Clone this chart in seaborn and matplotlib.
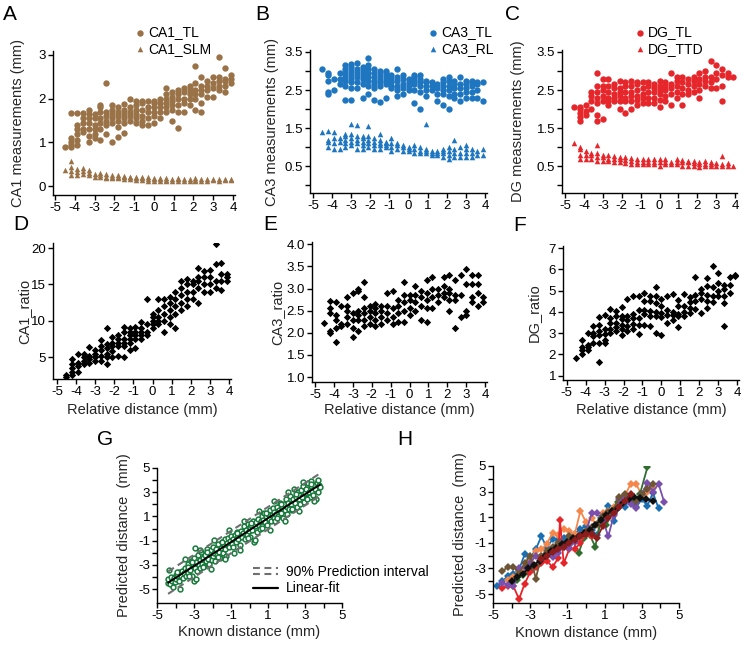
import numpy as np
import pandas as pd
import matplotlib
matplotlib.use("Agg")
import matplotlib.pyplot as plt
import seaborn as sns
from matplotlib.lines import Line2D
from matplotlib.legend_handler import HandlerBase

# ---------------- data ----------------
XGRID = [-4.5, -4.2, -3.9, -3.6, -3.3, -3.0, -2.7, -2.4, -2.1, -1.8, -1.5, -1.2, -0.9, -0.6, -0.3,
         0.0, 0.3, 0.6, 0.9, 1.2, 1.5, 1.8, 2.1, 2.4, 2.7, 3.0, 3.3, 3.6, 3.9]

CA1_TL = [[0.9], [0.9, 0.95, 1.0, 1.1, 1.67], [0.95, 1.05, 1.2, 1.3, 1.4, 1.68], [1.25, 1.3, 1.45, 1.55, 1.68],
          [1.0, 1.15, 1.3, 1.45, 1.55, 1.65, 1.75], [1.1, 1.2, 1.3, 1.4, 1.55, 1.65],
          [1.05, 1.3, 1.45, 1.55, 1.7, 1.8, 1.85], [1.2, 1.4, 1.5, 1.6, 1.7, 2.35], [1.0, 1.45, 1.55, 1.65, 1.75, 1.85],
          [1.12, 1.35, 1.5, 1.6, 1.7, 1.8], [1.22, 1.45, 1.55, 1.65, 1.75, 1.87], [1.5, 1.6, 1.7, 1.8, 2.0],
          [1.45, 1.55, 1.65, 1.75, 1.85, 1.95], [1.4, 1.5, 1.6, 1.75, 1.9, 1.95], [1.4, 1.55, 1.7, 1.8, 1.95],
          [1.45, 1.6, 1.7, 1.8, 1.9, 1.95], [1.55, 1.7, 1.8, 1.9, 2.0], [1.7, 1.8, 1.9, 2.0, 2.1, 2.25],
          [1.5, 1.75, 1.85, 1.95, 2.05, 2.15], [1.33, 1.7, 1.85, 2.0, 2.1, 2.2], [1.7, 1.9, 2.0, 2.15, 2.25],
          [1.85, 2.0, 2.1, 2.2, 2.3], [1.75, 2.0, 2.1, 2.2, 2.35, 2.75], [1.7, 1.9, 2.1, 2.2, 2.3, 2.5],
          [2.05, 2.2, 2.3, 2.4], [2.05, 2.25, 2.35, 2.5], [2.2, 2.3, 2.4, 2.5, 2.95], [2.15, 2.3, 2.4, 2.45, 2.7],
          [2.35, 2.45, 2.55]]
CA1_SLM = [[0.38], [0.25, 0.35, 0.45, 0.58], [0.25, 0.32, 0.4], [0.28, 0.35, 0.42], [0.25, 0.3, 0.38], [0.22, 0.28],
           [0.2, 0.25, 0.3], [0.18, 0.22, 0.28], [0.18, 0.22, 0.26], [0.18, 0.22, 0.25], [0.17, 0.2, 0.24],
           [0.16, 0.2, 0.22], [0.15, 0.18, 0.22], [0.15, 0.18, 0.2], [0.13, 0.16, 0.2], [0.13, 0.16, 0.19],
           [0.13, 0.16, 0.18], [0.13, 0.15, 0.18], [0.13, 0.16], [0.13, 0.16, 0.18], [0.13, 0.16], [0.13, 0.16],
           [0.12, 0.15, 0.18], [0.13, 0.16], [0.13, 0.16], [0.14, 0.17], [0.13, 0.16], [0.14, 0.17], [0.15, 0.17]]

CA3_TL = [[3.05], [2.4, 2.45, 2.75, 2.9, 2.95], [2.5, 2.8], [2.65, 2.8, 2.95], [2.25, 2.6, 2.75, 2.85, 2.95, 3.05, 3.15],
          [2.25, 2.55, 2.7, 2.8, 2.9, 3.0, 3.1, 3.18], [2.55, 2.7, 2.85, 2.95, 3.05, 3.2], [2.28, 2.65, 2.8, 2.9, 3.0, 3.1],
          [2.4, 2.6, 2.75, 2.85, 2.95, 3.05, 3.15, 3.33], [2.25, 2.55, 2.65, 2.75, 2.85, 2.95, 3.05],
          [2.18, 2.6, 2.7, 2.8, 2.9, 3.0], [2.3, 2.65, 2.75, 2.85, 2.95, 3.0], [2.55, 2.6, 2.7, 2.8, 2.9],
          [2.35, 2.5, 2.6, 2.75, 2.85, 3.05], [2.4, 2.55, 2.65, 2.8, 2.9], [2.5, 2.6, 2.7, 2.8],
          [2.15, 2.5, 2.65, 2.75, 2.85, 2.9], [2.0, 2.45, 2.6, 2.7, 2.8, 2.9], [2.35, 2.5, 2.6, 2.7, 2.75],
          [2.5, 2.6, 2.7], [2.2, 2.4, 2.55, 2.65], [2.1, 2.4, 2.5, 2.6, 2.7, 2.8], [2.0, 2.35, 2.5, 2.6, 2.75, 2.85],
          [2.3, 2.4, 2.55, 2.65, 2.75], [2.2, 2.4, 2.55, 2.65, 2.85], [2.3, 2.45, 2.55, 2.65, 2.75],
          [2.3, 2.45, 2.6, 2.7, 2.75], [2.3, 2.5, 2.65, 2.7], [2.2, 2.7]]
CA3_RL = [[1.4], [1.0, 1.15, 1.2, 1.42], [0.95, 1.1, 1.25, 1.4], [0.95, 1.15, 1.25], [1.0, 1.1, 1.2, 1.3, 1.35],
          [1.05, 1.15, 1.25, 1.35, 1.6], [0.95, 1.1, 1.2, 1.3, 1.58], [0.95, 1.05, 1.15, 1.25, 1.3],
          [1.0, 1.1, 1.2, 1.3, 1.55], [0.95, 1.05, 1.15, 1.25], [0.95, 1.05, 1.1, 1.2, 1.35], [1.0, 1.05, 1.1, 1.15],
          [0.9, 1.0, 1.1, 1.25], [0.95, 1.05, 1.1], [0.9, 1.0, 1.05], [0.9, 0.95, 1.0], [0.85, 0.95, 1.05],
          [0.85, 0.9, 1.0], [0.85, 0.9, 0.95, 1.6], [0.8, 0.85, 0.9], [0.8, 0.85, 0.9], [0.75, 0.85, 0.9, 0.95],
          [0.7, 0.8, 0.9, 1.0], [0.75, 0.85, 0.95, 1.2], [0.75, 0.85, 1.0], [0.75, 0.85, 0.95, 1.05],
          [0.75, 0.85, 0.95], [0.8, 0.9], [0.8, 0.95]]

DG_TL = [[2.05], [1.7, 1.8, 1.9, 2.0, 2.05], [1.85, 1.95, 2.1], [2.0, 2.2, 2.35, 2.45],
         [1.7, 1.85, 2.15, 2.3, 2.45, 2.6, 2.95], [1.75, 2.2, 2.35, 2.5, 2.6, 2.8], [2.1, 2.2, 2.3, 2.45, 2.6, 2.8],
         [2.2, 2.3, 2.4, 2.55, 2.65], [2.0, 2.2, 2.35, 2.45, 2.55, 2.75], [1.9, 2.2, 2.3, 2.45, 2.6, 2.7],
         [2.0, 2.2, 2.35, 2.45, 2.6, 2.75], [2.1, 2.25, 2.35, 2.5, 2.65, 2.7], [2.15, 2.3, 2.4, 2.55, 2.7],
         [2.15, 2.3, 2.45, 2.6, 2.7], [2.15, 2.3, 2.45, 2.55, 2.65], [2.05, 2.25, 2.4, 2.5, 2.6, 2.75],
         [2.2, 2.35, 2.5, 2.6, 2.7], [2.1, 2.4, 2.55, 2.65, 2.95], [2.3, 2.45, 2.6, 2.75, 2.85],
         [2.1, 2.4, 2.55, 2.7, 2.85], [2.4, 2.5, 2.65, 2.8], [2.45, 2.6, 2.75, 2.85], [2.3, 2.5, 2.65, 2.8, 2.95],
         [2.6, 2.75, 2.85, 3.0], [2.55, 2.7, 2.85, 3.25], [2.55, 2.8, 2.95, 3.15], [2.2, 2.6, 2.9, 3.05],
         [2.85, 2.95], [2.85]]
DG_TTD = [[1.12], [0.7, 0.8, 0.95, 1.0], [0.7, 0.8, 0.9], [0.7, 0.8, 0.85], [0.65, 0.75, 0.85, 1.05],
          [0.65, 0.75, 0.8], [0.65, 0.7, 0.8], [0.6, 0.7, 0.78], [0.6, 0.68, 0.75], [0.58, 0.66, 0.74],
          [0.55, 0.65, 0.72], [0.55, 0.62, 0.7], [0.55, 0.62, 0.7], [0.55, 0.62, 0.7], [0.55, 0.62, 0.7],
          [0.52, 0.6, 0.68], [0.55, 0.62, 0.7], [0.55, 0.62], [0.55, 0.62, 0.7], [0.52, 0.6, 0.66],
          [0.52, 0.6, 0.65], [0.5, 0.58, 0.63], [0.48, 0.55, 0.62], [0.5, 0.57, 0.63], [0.5, 0.57, 0.62],
          [0.52, 0.58], [0.5, 0.56, 0.78], [0.5, 0.58], [0.5]]

CA1_RATIO = [[2.3, 2.5], [2.5, 3.0, 3.5, 4.0, 4.7], [3.0, 3.8, 4.2, 5.5], [4.0, 4.5, 5.0, 5.5], [4.2, 4.8, 5.2, 6.4],
             [4.5, 5.0, 5.5, 6.0], [4.5, 5.2, 6.0, 6.5, 7.3], [4.0, 5.0, 5.5, 6.2, 6.8, 9.0],
             [5.0, 5.8, 6.5, 7.0, 7.8], [5.2, 6.5, 7.0, 7.5, 8.0], [5.0, 6.5, 7.0, 7.5, 8.5, 9.2],
             [6.0, 7.0, 7.5, 8.0, 8.5, 9.0], [6.3, 7.5, 8.0, 8.5, 9.2], [7.5, 8.0, 8.5, 9.0, 9.8],
             [8.0, 8.5, 9.5, 13.0], [9.0, 9.5, 10.0, 10.5, 11.0], [9.5, 10.0, 10.5, 11.5, 13.0],
             [8.5, 10.0, 11.0, 12.0, 13.0], [9.5, 10.5, 11.5, 12.5, 13.3], [9.0, 11.0, 12.0, 13.0, 14.0],
             [11.5, 12.5, 13.5, 14.5, 15.5], [12.0, 13.0, 14.0, 15.0, 15.7], [13.0, 14.0, 15.0, 15.5],
             [12.5, 14.5, 15.5, 16.0, 17.2], [14.0, 15.0, 16.0, 16.8], [14.0, 15.0, 16.0, 17.0],
             [14.5, 15.5, 17.8, 20.5], [14.2, 15.5, 16.5, 18.0], [15.5, 16.0, 16.5]]
CA3_RATIO = [[2.23], [2.0, 2.05, 2.45, 2.55, 2.72], [1.8, 2.1, 2.3, 2.4, 2.7], [2.15, 2.2, 2.6],
             [2.2, 2.35, 2.5, 2.6, 2.8], [1.9, 2.1, 2.3, 2.45, 2.9], [2.05, 2.3, 2.4, 2.5, 2.95, 3.0],
             [2.15, 2.3, 2.45, 2.55, 2.8, 3.15], [2.2, 2.35, 2.5, 2.6], [2.15, 2.3, 2.45, 2.55, 2.65],
             [2.2, 2.35, 2.5, 2.6], [2.3, 2.45, 2.6, 2.9], [2.2, 2.35, 2.55, 2.95], [2.25, 2.45, 2.6, 2.75],
             [2.25, 2.5, 2.7, 2.85, 3.15], [2.4, 2.55, 2.75, 2.85], [2.5, 2.7, 2.85, 3.05], [2.3, 2.6, 2.8, 2.95],
             [2.25, 2.55, 2.75, 2.9, 3.2], [2.55, 2.8, 3.0, 3.25], [2.7, 2.85, 3.0], [2.8, 2.9, 3.05, 3.25],
             [2.5, 2.75, 2.9, 3.0, 3.3], [2.1, 2.75, 2.85, 3.2], [2.35, 2.85, 3.3], [2.4, 2.5, 3.1, 3.45],
             [2.7, 2.8, 3.1, 3.3], [2.6, 2.9, 3.1, 3.3], [2.7, 2.8]]
DG_RATIO = [[1.85], [2.0, 2.2, 2.35, 2.7], [2.2, 2.35, 2.45, 3.0], [2.55, 2.85, 3.0, 3.35],
            [1.65, 2.55, 2.9, 3.1, 3.4, 3.75], [2.55, 2.7, 2.95, 3.2, 3.85], [3.0, 3.2, 3.5, 3.7, 4.15],
            [3.1, 3.3, 3.5, 3.8, 4.05], [2.9, 3.2, 3.4, 3.65, 3.8, 4.25], [3.1, 3.35, 3.6, 3.8, 4.6],
            [3.2, 3.45, 3.7, 3.9, 4.75], [2.95, 3.4, 3.7, 4.1, 4.75], [3.4, 3.9, 4.1, 4.5, 4.9],
            [3.35, 3.8, 4.05, 4.5, 4.75], [3.0, 3.8, 4.0, 4.4, 4.75, 5.15], [2.9, 3.75, 3.95, 4.3, 4.6],
            [3.5, 3.85, 4.1, 4.75], [3.6, 3.85, 4.0, 4.85], [3.3, 3.8, 3.9, 4.3, 4.55], [3.8, 4.0, 4.3, 4.85],
            [3.95, 4.2, 4.45, 4.7], [4.15, 4.5, 4.8, 5.65], [3.95, 4.6, 4.9, 5.1], [4.2, 4.5, 4.8, 5.2, 5.6],
            [4.45, 4.75, 5.15, 6.15], [4.75, 5.0, 5.35, 5.85], [3.35, 4.4, 4.75, 5.1, 5.25], [4.9, 5.25, 5.65],
            [5.7, 5.75]]

G_KNOWN = [-4.4, -4.4, -4.3, -4.25, -4.2, -4.1, -4.05, -4.0, -3.95, -3.9, -3.8, -3.8, -3.7, -3.65, -3.6, -3.55,
           -3.5, -3.45, -3.4, -3.35, -3.3, -3.3, -3.2, -3.15, -3.1, -3.05, -3.0, -3.0, -2.95, -2.95, -2.9, -2.85,
           -2.8, -2.75, -2.7, -2.65, -2.6, -2.55, -2.5, -2.45, -2.4, -2.35, -2.3, -2.25, -2.2, -2.15, -2.1, -2.05,
           -2.0, -1.95, -1.9, -1.85, -1.8, -1.75, -1.7, -1.65, -1.6, -1.55, -1.5, -1.45, -1.4, -1.35, -1.3, -1.25,
           -1.2, -1.15, -1.1, -1.05, -1.0, -0.95, -0.9, -0.85, -0.8, -0.75, -0.7, -0.65, -0.6, -0.55, -0.5, -0.45,
           -0.4, -0.35, -0.3, -0.25, -0.2, -0.15, -0.1, -0.05, 0.0, 0.05, 0.1, 0.15, 0.2, 0.25, 0.3, 0.35, 0.4,
           0.45, 0.5, 0.55, 0.6, 0.65, 0.7, 0.75, 0.8, 0.85, 0.9, 0.95, 1.0, 1.05, 1.1, 1.15, 1.2, 1.25, 1.3,
           1.35, 1.4, 1.45, 1.5, 1.55, 1.6, 1.65, 1.7, 1.75, 1.8, 1.85, 1.9, 1.95, 2.0, 2.05, 2.1, 2.15, 2.2,
           2.25, 2.3, 2.35, 2.4, 2.45, 2.5, 2.55, 2.6, 2.65, 2.7, 2.75, 2.8, 2.85, 2.9, 2.95, 3.0, 3.05, 3.1,
           3.15, 3.2, 3.25, 3.3, 3.35, 3.4, 3.45, 3.5, 3.55, 3.6, 3.65, 3.7, 3.75, 3.8,
           -4.35, -4.15, -3.9, -3.75, -3.5, -3.25, -3.1, -2.9, -2.7, -2.5, -2.3, -2.1, -1.9, -1.7, -1.5, -1.3,
           -1.1, -0.9, -0.7, -0.5, -0.3, -0.1, 0.1, 0.3, 0.5, 0.7, 0.9, 1.1, 1.3, 1.5, 1.7, 1.9, 2.1, 2.3, 2.5,
           2.7, 2.9, 3.1, 3.3, 3.5, 3.7]
G_PRED = [-4.5, -4.2, -4.6, -4.0, -4.35, -4.1, -4.45, -3.8, -4.2, -3.9, -4.3, -3.6, -3.9, -3.5, -4.1, -3.7,
          -3.3, -3.9, -3.5, -2.9, -3.7, -3.2, -3.4, -2.7, -3.9, -3.1, -4.3, -2.4, -1.6, -3.3, -2.8, -3.5,
          -2.2, -3.0, -2.6, -3.3, -1.9, -2.9, -2.4, -3.1, -2.2, -2.7, -1.7, -2.5, -2.9, -2.1, -1.8, -2.6,
          -2.3, -1.5, -2.0, -2.7, -1.7, -2.2, -1.3, -1.9, -2.4, -1.6, -1.1, -2.0, -1.4, -0.9, -1.7, -2.3,
          -1.2, -0.8, -1.5, -1.0, -0.6, -1.3, -0.9, -2.0, -0.5, -1.1, -0.7, -0.3, -0.9, -0.5, -1.4, -0.2,
          -0.7, -0.4, 0.2, -0.9, -0.1, -0.5, 0.4, -0.2, 0.1, -0.7, 0.3, -0.1, 0.6, -1.1, 0.2, 0.5, -0.3,
          0.8, 0.3, 0.0, 0.6, 1.0, 0.2, 0.7, 1.3, 0.5, 1.0, 0.3, 1.2, 0.8, 1.5, 0.6, 1.1, 1.7, 0.9,
          1.4, 0.6, 1.2, 1.8, 1.0, 1.5, 2.1, 1.3, 1.7, 0.9, 2.0, 1.5, 2.4, 1.8, 1.2, 2.1, 1.6, 2.7,
          2.0, 1.5, 2.4, 3.3, 2.1, 2.6, 1.8, 3.0, 2.4, 2.8, 2.0, 3.2, 2.6, 3.5, 2.2, 2.9, 3.3, 2.5,
          3.8, 3.0, 2.6, 3.5, 3.9, 3.1, 2.8, 3.6, 3.3, 2.4, 3.8, 3.0, 3.6, 3.4,
          -3.4, -4.8, -3.55, -5.0, -2.55, -3.9, -2.75, -4.15, -1.75, -3.15, -1.95, -3.35, -0.95, -2.35, -1.15,
          -2.55, -0.15, -1.55, -0.35, -1.75, 0.65, -0.75, 0.45, -0.95, 1.45, 0.05, 1.25, -0.15, 2.25, 0.85,
          2.05, 0.65, 3.05, 1.65, 2.85, 1.45, 3.85, 2.45, 3.65, 2.25, 4.05]

H_RUNS = ["r1", "r2", "r3", "r4", "r5", "r6", "r7", "r8"]
H_COLORS = ["#1a6fb3", "#f4874b", "#2f6e2f", "#e5252a", "#7a4fae", "#6d5536", "#111111", "#8c1d1d"]
H_X = [
    [-4.8, -4.5, -4.2, -3.9, -3.6, -3.3, -3.0, -2.7, -2.4, -2.1, -1.8, -1.5, -1.2, -0.9, -0.6, -0.3, 0.0, 0.3, 0.6,
     0.9, 1.2, 1.5, 1.8, 2.1, 2.4, 2.7, 3.0, 3.3, 3.6, 3.9],
    [-4.2, -3.9, -3.6, -3.3, -3.0, -2.7, -2.4, -2.1, -1.8, -1.5, -1.2, -0.9, -0.6, -0.3, 0.0, 0.3, 0.6, 0.9, 1.2,
     1.5, 1.8, 2.1, 2.4, 2.7, 3.0, 3.3, 3.6],
    [-4.0, -3.7, -3.4, -3.1, -2.8, -2.5, -2.2, -1.9, -1.6, -1.3, -1.0, -0.7, -0.4, -0.1, 0.2, 0.5, 0.8, 1.1, 1.4,
     1.7, 2.0, 2.3, 2.6, 2.9, 3.3],
    [-4.5, -4.2, -3.9, -3.6, -3.3, -3.0, -2.7, -2.4, -2.1, -1.8, -1.5, -1.4, -1.2, -0.9, -0.6, -0.3, 0.0, 0.3],
    [-4.5, -4.2, -3.9, -3.6, -3.3, -3.0, -2.7, -2.4, -2.1, -1.8, -1.5, -1.2, -0.9, -0.6, -0.3, 0.0, 0.3, 0.6, 0.9,
     1.2, 1.5, 1.8, 2.1, 2.4, 2.7, 3.0, 3.3, 3.6, 3.9, 4.2],
    [-4.5, -4.2, -3.9, -3.6, -3.3, -3.0, -2.7, -2.4, -2.1, -1.8, -1.5, -1.2, -0.9, -0.6, -0.3, 0.0, 0.3, 0.6, 0.9,
     1.2, 1.5, 1.8, 2.1, 2.4, 2.7, 3.0, 3.3, 3.6],
    [-4.0, -3.7, -3.4, -3.1, -2.8, -2.5, -2.2, -1.9, -1.6, -1.3, -1.0, -0.7, -0.4, -0.1, 0.2, 0.5, 0.8, 1.1, 1.4,
     1.7, 2.0, 2.3, 2.6, 2.9, 3.2, 3.6],
    [-2.4, -2.1, -1.8, -1.5, -1.2, -0.9, -0.6, -0.3, 0.0, 0.3, 0.6, 0.9, 1.2, 1.5, 1.8, 2.1, 2.4],
]
H_Y = [
    [-4.4, -4.0, -3.6, -3.4, -3.1, -1.9, -2.2, -1.5, -0.5, -1.4, -0.7, -0.8, -0.6, -0.5, -0.3, 0.1, 0.3, 0.0, -0.4,
     1.0, 1.9, 0.7, 2.0, 1.8, 2.6, 1.8, 2.4, 1.9, 2.9, 1.7],
    [-3.9, -3.7, -3.3, -3.0, -2.4, -1.6, -1.5, -1.1, -0.2, -0.4, 0.1, -0.1, -0.3, 1.5, 0.6, 0.9, 0.4, 1.3, 1.5,
     1.8, 2.0, 2.7, 3.6, 3.6, 2.7, 3.0, 3.3],
    [-4.1, -3.9, -3.5, -3.3, -2.9, -2.6, -2.1, -1.8, -1.5, -1.2, -1.0, -0.8, -1.8, -0.6, -0.4, -1.3, 0.9, 0.4, 1.5,
     2.2, 2.6, 2.5, 2.2, 2.8, 4.9],
    [-4.5, -4.4, -4.4, -5.4, -4.2, -3.3, -2.9, -2.6, -2.4, -2.9, -2.2, 0.8, -2.6, -1.5, -1.5, -1.0, -0.3, -0.5],
    [-4.1, -4.3, -4.4, -3.0, -2.9, -2.6, -2.0, -2.3, -1.8, -2.1, -1.8, -1.3, -1.4, -0.9, -0.4, -0.2, 1.3, 1.3, 0.8,
     -0.5, 1.2, 2.4, 2.5, 2.0, 1.7, 2.8, 3.7, 3.0, 3.6, 2.2],
    [-3.2, -2.9, -2.85, -3.4, -2.6, -2.0, -3.8, -2.0, -1.6, -1.3, -1.0, -1.1, -0.5, -0.7, -0.5, -0.1, 0.2, 0.5, 1.1,
     1.4, 1.6, 2.6, 2.8, 2.6, 2.3, 2.8, 3.2, 3.6],
    [-4.0, -3.7, -3.4, -3.0, -2.7, -2.4, -2.0, -1.6, -1.4, -1.1, -0.9, -0.6, -0.5, -0.2, 0.0, 0.4, 0.8, 1.2, 1.5,
     1.7, 2.1, 2.4, 2.6, 2.5, 2.4, 2.3],
    [-2.3, -2.0, -1.7, -1.5, -1.3, -1.0, -0.8, -0.5, -0.3, -0.3, -0.6, 0.3, 0.9, 1.3, 1.8, 2.3, 2.8],
]

# ---------------- style ----------------
sns.set_style("ticks")
plt.rcParams["font.family"] = ["Liberation Sans", "DejaVu Sans"]
plt.rcParams.update({
    "axes.linewidth": 1.0,
    "axes.unicode_minus": False,
    "xtick.major.width": 1.0, "ytick.major.width": 1.0,
    "xtick.major.size": 3.5, "ytick.major.size": 3.5,
    "xtick.major.pad": 1.5, "ytick.major.pad": 1.5,
    "xtick.labelsize": 9.5, "ytick.labelsize": 9.5,
    "axes.labelsize": 10.5,
    "xtick.color": "black", "ytick.color": "black",
    "axes.edgecolor": "black", "text.color": "black",
})

BROWN = "#9a7248"
BLUE = "#1f76c0"
RED = "#e5262b"
GREEN = "#177a3b"

W, H = 750, 645
fig = plt.figure(figsize=(7.5, 6.45), dpi=100)


def box(l, t, r, b):
    return [l / W, 1 - b / H, (r - l) / W, (b - t) / H]


def flat(series):
    xs = [XGRID[i] for i, col in enumerate(series) for _ in col]
    ys = [v for col in series for v in col]
    return pd.DataFrame({"x": xs, "y": ys})


def finish(ax, pos, ylab, ylab_x, xlab=None, xlab_y=None):
    l, t, r, b = pos
    sns.despine(ax=ax)
    ax.set_ylabel(ylab)
    ax.yaxis.label.set_va("center")
    ax.yaxis.set_label_coords((ylab_x - l) / (r - l), 0.5)
    if xlab:
        ax.set_xlabel(xlab)
        ax.xaxis.label.set_va("center")
        ax.xaxis.set_label_coords(0.5, (b - xlab_y) / (b - t))
    else:
        ax.set_xlabel("")


def top_panel(pos, xlim, ylim, yticks, ylabels, s1, s2, color, names, ylab, ylab_x, leg_left):
    ax = fig.add_axes(box(*pos))
    d1, d2 = flat(s1), flat(s2)
    sns.scatterplot(data=d1, x="x", y="y", ax=ax, color=color, marker="o", s=21, linewidth=0, label=names[0])
    sns.scatterplot(data=d2, x="x", y="y", ax=ax, color=color, marker="^", s=16, linewidth=0, label=names[1])
    ax.set_xlim(*xlim)
    ax.set_ylim(*ylim)
    ax.set_xticks(range(-5, 5))
    ax.set_yticks(yticks)
    ax.set_yticklabels(ylabels)
    finish(ax, pos, ylab, ylab_x)
    ax.legend(loc="center left", bbox_to_anchor=(leg_left / W, 1 - 40.5 / H), bbox_transform=fig.transFigure,
              frameon=False, borderpad=0, borderaxespad=0, handlelength=0.5, handletextpad=0.35,
              labelspacing=0.15, fontsize=10)
    return ax


posA = (53, 50.6, 235, 195)
top_panel(posA, (-5.1, 4.1), (-0.2, 3.1), [0, 1, 2, 3], ["0", "1", "2", "3"], CA1_TL, CA1_SLM, BROWN,
          ["CA1_TL", "CA1_SLM"], "CA1 measurements (mm)", 18, 136.5)
y35 = [0, 0.5, 1.0, 1.5, 2.0, 2.5, 3.0, 3.5]
y35l = ["", "0.5", "", "1.5", "", "2.5", "", "3.5"]
posB = (310, 50, 487, 193)
top_panel(posB, (-5.15, 4.1), (-0.2, 3.55), y35, y35l, CA3_TL, CA3_RL, BLUE,
          ["CA3_TL", "CA3_RL"], "CA3 measurements (mm)", 272, 429.5)
posC = (562, 50, 737, 193)
top_panel(posC, (-5.16, 4.1), (-0.2, 3.55), y35, y35l, DG_TL, DG_TTD, RED,
          ["DG_TL", "DG_TTD"], "DG measurements (mm)", 518, 636.5)


def mid_panel(pos, xlim, ylim, yticks, ylabels, series, ylab, ylab_x):
    ax = fig.add_axes(box(*pos))
    d = flat(series)
    sns.scatterplot(data=d, x="x", y="y", ax=ax, color="black", marker="D", s=14, linewidth=0)
    ax.set_xlim(*xlim)
    ax.set_ylim(*ylim)
    ax.set_xticks(range(-5, 5))
    ax.set_yticks(yticks)
    ax.set_yticklabels(ylabels)
    finish(ax, pos, ylab, ylab_x, "Relative distance (mm)", 410)
    return ax


mid_panel((53, 243, 231, 379), (-5.2, 4.1), (2.0, 20.7), [5, 10, 15, 20], ["5", "10", "15", "20"],
          CA1_RATIO, "CA1_ratio", 24)
e_ticks = [1.0, 1.5, 2.0, 2.5, 3.0, 3.5, 4.0]
mid_panel((312, 242, 487, 382), (-5.16, 4.1), (0.89, 4.05), e_ticks, ["%.1f" % v for v in e_ticks],
          CA3_RATIO, "CA3_ratio", 277)
mid_panel((563, 246, 739, 380), (-5.2, 4.1), (0.8, 7.1), [1, 2, 3, 4, 5, 6, 7], [str(v) for v in range(1, 8)],
          DG_RATIO, "DG_ratio", 534)

odd_labels = [str(v) if v % 2 != 0 else "" for v in range(-5, 6)]

# ---------------- panel G ----------------
posG = (157, 468, 342, 603)
axG = fig.add_axes(box(*posG))
gdf = pd.DataFrame({"known": G_KNOWN, "pred": G_PRED})
slope, icpt = np.polyfit(gdf["known"], gdf["pred"], 1)
resid = gdf["pred"] - (slope * gdf["known"] + icpt)
half = 1.645 * resid.std(ddof=2) * np.sqrt(1 + 1 / len(gdf))
xl = np.linspace(gdf["known"].min(), gdf["known"].max(), 50)
fitdf = pd.DataFrame({"x": xl, "fit": slope * xl + icpt, "up": slope * xl + icpt + half,
                      "lo": slope * xl + icpt - half})
dash = (0, (3.3, 2.2))
sns.scatterplot(data=gdf, x="known", y="pred", ax=axG, marker="o", s=12, facecolor="white",
                edgecolor=GREEN, linewidth=1.1, zorder=2)
axG.plot(fitdf["x"], fitdf["up"], color="#6f6f6f", lw=1.5, linestyle=dash, zorder=3)
axG.plot(fitdf["x"], fitdf["lo"], color="#6f6f6f", lw=1.5, linestyle=dash, zorder=3)
sns.lineplot(data=fitdf, x="x", y="fit", ax=axG, color="black", lw=1.4, zorder=4)
axG.set_xlim(-5, 5)
axG.set_ylim(-6.15, 5)
axG.set_xticks(range(-5, 6))
axG.set_xticklabels(odd_labels)
axG.set_yticks(range(-5, 6))
axG.set_yticklabels(odd_labels)
finish(axG, posG, "Predicted distance  (mm)", 124, "Known distance (mm)", 632)


class HandlerDouble(HandlerBase):
    def create_artists(self, legend, orig_handle, xdescent, ydescent, width, height, fontsize, trans):
        arts = []
        for f in (0.15, 0.75):
            ln = Line2D([-xdescent, -xdescent + width], [-ydescent + f * height] * 2,
                        color="#6f6f6f", lw=1.5, linestyle=dash)
            ln.set_transform(trans)
            arts.append(ln)
        return arts


pi_handle = Line2D([], [], color="#6f6f6f")
fit_handle = Line2D([], [], color="black", lw=1.6)
axG.legend([pi_handle, fit_handle], ["90% Prediction interval", "Linear-fit"],
           handler_map={pi_handle: HandlerDouble()},
           loc="center left", bbox_to_anchor=(253 / W, 1 - 580 / H), bbox_transform=fig.transFigure,
           frameon=False, borderpad=0, borderaxespad=0, handlelength=1.8, handletextpad=0.6,
           labelspacing=0.2, fontsize=10)

# ---------------- panel H ----------------
posHH = (493, 466, 679, 603)
axH = fig.add_axes(box(*posHH))
rows = []
for run, xs, ys in zip(H_RUNS, H_X, H_Y):
    for xv, yv in zip(xs, ys):
        rows.append((run, xv, yv))
hdf = pd.DataFrame(rows, columns=["run", "known", "pred"])
sns.lineplot(data=hdf, x="known", y="pred", hue="run", palette=dict(zip(H_RUNS, H_COLORS)),
             sort=False, estimator=None, marker="D", markersize=3.8, markeredgewidth=0, lw=1.3,
             legend=False, ax=axH)
axH.set_xlim(-5, 5)
axH.set_ylim(-5.7, 5)
axH.set_xticks(range(-5, 6))
axH.set_xticklabels(odd_labels)
axH.set_yticks(range(-5, 6))
axH.set_yticklabels(odd_labels)
finish(axH, posHH, "Predicted distance  (mm)", 460, "Known distance (mm)", 633)

# ---------------- panel letters ----------------
for letter, px, py in [("A", 3, 5), ("B", 255, 5), ("C", 505, 5), ("D", 13, 215), ("E", 263, 215),
                       ("F", 513, 216), ("G", 97, 430), ("H", 397, 430)]:
    fig.text(px / W, 1 - py / H, letter, fontsize=15, ha="left", va="top")

fig.savefig("out.png", dpi=100)
